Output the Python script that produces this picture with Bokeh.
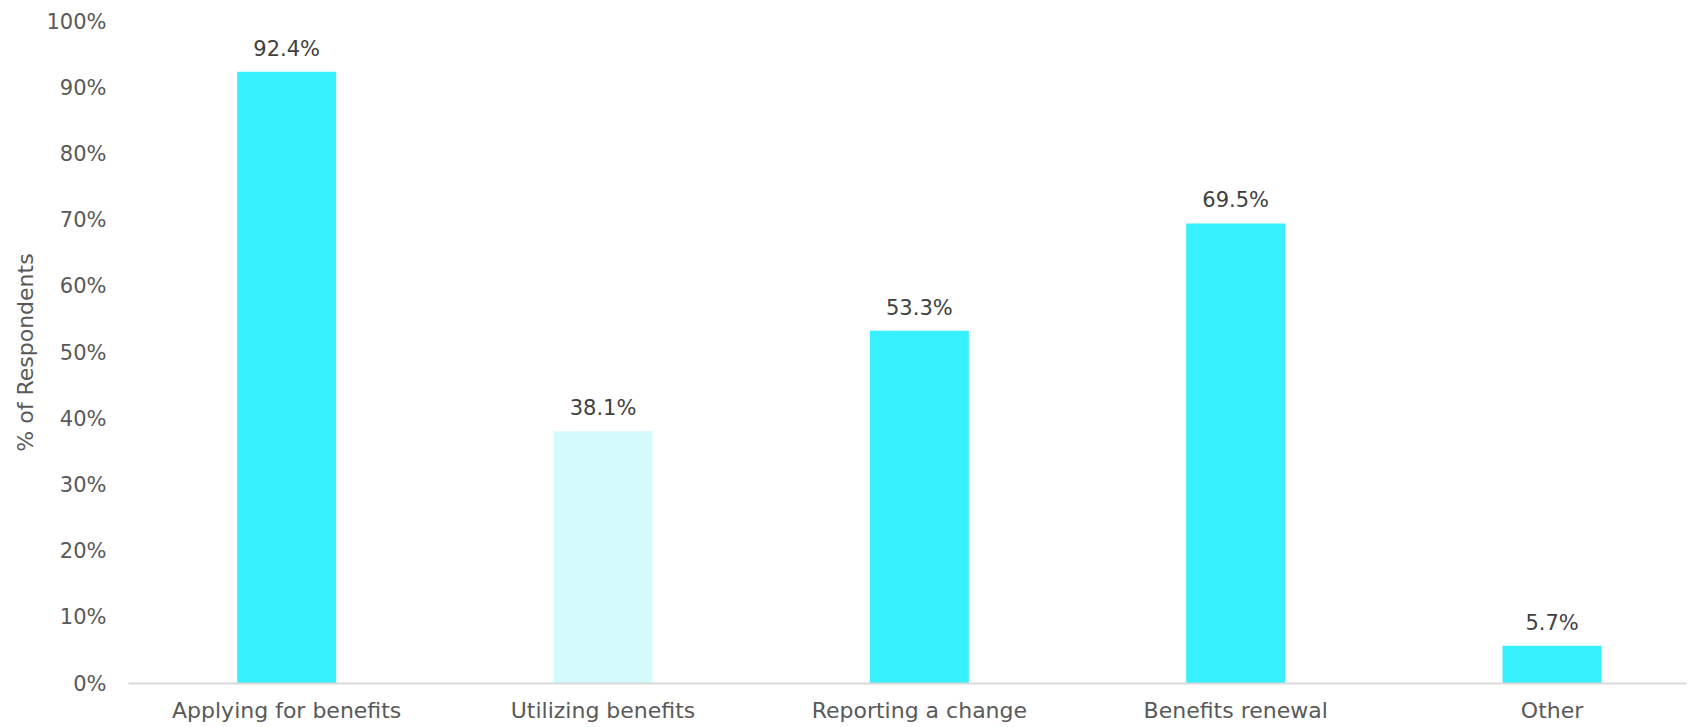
from bokeh.plotting import figure
from bokeh.models import Range1d, ColumnDataSource, LabelSet, FixedTicker, CustomJSTickFormatter
from bokeh.core.properties import value
from bokeh.embed import file_html
from bokeh.resources import INLINE

categories = ["Applying for benefits", "Utilizing benefits", "Reporting a change", "Benefits renewal", "Other"]
values = [92.4, 38.1, 53.3, 69.5, 5.7]
bar_colors = ["#37F0FF", "#D5FAFD", "#37F0FF", "#37F0FF", "#37F0FF"]
labels = ["92.4%", "38.1%", "53.3%", "69.5%", "5.7%"]
y_ticks = [0, 10, 20, 30, 40, 50, 60, 70, 80, 90, 100]

FONT = "DejaVu Sans"
TXT = "#595959"

# category slot centres (slot i spans i..i+1)
xpos = [i + 0.5 for i in range(len(categories))]

src = ColumnDataSource(dict(x=xpos, cat=categories, val=values, color=bar_colors, lab=labels))

# the original's category axis runs slightly past the right edge of the picture
p = figure(x_range=Range1d(0, len(categories) * 0.985), y_range=Range1d(0, 100),
           width=1688, height=727, output_backend="svg", toolbar_location=None,
           min_border_left=128, min_border_right=2, min_border_top=21, min_border_bottom=44)

p.vbar(x="x", top="val", width=0.313, color="color", source=src, line_width=0)

lbl = LabelSet(x="x", y="val", text="lab", source=src, text_align="center",
               text_baseline="alphabetic", y_offset=16, text_font=value(FONT),
               text_font_size="21px", text_color="#404040")
p.add_layout(lbl)

p.xgrid.grid_line_color = None
p.ygrid.grid_line_color = None
p.outline_line_color = None

p.yaxis.ticker = FixedTicker(ticks=y_ticks)
p.yaxis.formatter = CustomJSTickFormatter(code="return tick.toFixed(0) + '%';")
p.yaxis.axis_line_color = None
p.yaxis.major_tick_line_color = None
p.yaxis.minor_tick_line_color = None
p.yaxis.major_label_text_font = FONT
p.yaxis.major_label_text_font_size = "21px"
p.yaxis.major_label_text_color = TXT
p.yaxis.major_label_standoff = 16
p.yaxis.axis_label = "% of Respondents"
p.yaxis.axis_label_text_font = FONT
p.yaxis.axis_label_text_font_size = "22px"
p.yaxis.axis_label_text_font_style = "normal"
p.yaxis.axis_label_text_color = TXT
p.yaxis.axis_label_standoff = 5

p.xaxis.ticker = FixedTicker(ticks=xpos)
p.xaxis.major_label_overrides = {x: c for x, c in zip(xpos, categories)}
p.xaxis.axis_line_color = "#D9D9D9"
p.xaxis.axis_line_width = 2
p.xaxis.major_tick_line_color = None
p.xaxis.minor_tick_line_color = None
p.xaxis.major_label_text_font = FONT
p.xaxis.major_label_text_font_size = "22px"
p.xaxis.major_label_text_color = TXT
p.xaxis.major_label_standoff = 8

p.background_fill_color = "white"
p.border_fill_color = "white"

open("out.html", "w").write(file_html(p, INLINE))
